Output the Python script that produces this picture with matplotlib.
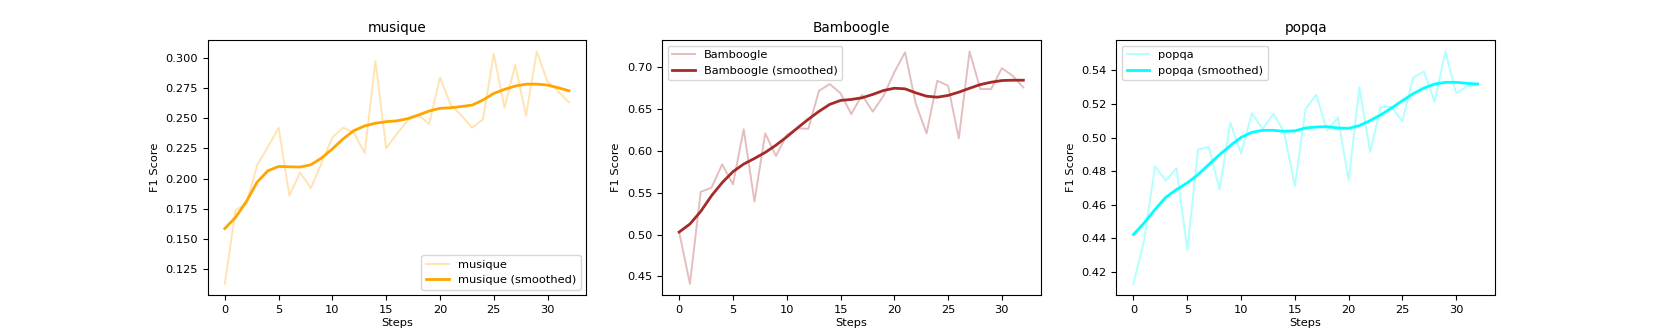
import matplotlib
matplotlib.use("Agg")
import matplotlib.pyplot as plt

steps = list(range(33))

# musique
musique_raw = [0.113, 0.174, 0.179, 0.211, 0.226, 0.242, 0.186, 0.205, 0.192, 0.213,
               0.234, 0.242, 0.238, 0.221, 0.297, 0.225, 0.237, 0.248, 0.2525, 0.245,
               0.2835, 0.261, 0.252, 0.242, 0.249, 0.303, 0.2585, 0.294, 0.252, 0.305,
               0.280, 0.272, 0.263]
musique_smooth = [0.1587, 0.168, 0.181, 0.197, 0.2064, 0.210, 0.2097, 0.2095, 0.2114, 0.217,
                  0.2245, 0.2328, 0.2396, 0.2435, 0.2457, 0.247, 0.2477, 0.2495, 0.2525, 0.2558,
                  0.258, 0.2585, 0.2595, 0.2607, 0.2649, 0.2703, 0.2737, 0.2764, 0.278, 0.278,
                  0.2772, 0.275, 0.2725]

# Bamboogle
bamboogle_raw = [0.503, 0.441, 0.551, 0.556, 0.584, 0.560, 0.626, 0.5395, 0.621, 0.594,
                 0.619, 0.627, 0.6265, 0.672, 0.680, 0.669, 0.644, 0.667, 0.647, 0.666,
                 0.694, 0.718, 0.6565, 0.621, 0.684, 0.678, 0.615, 0.719, 0.674, 0.674,
                 0.699, 0.690, 0.676]
bamboogle_smooth = [0.503, 0.5126, 0.5276, 0.5463, 0.5621, 0.5752, 0.5843, 0.591, 0.5982, 0.6069,
                    0.6168, 0.6275, 0.6378, 0.6473, 0.6557, 0.6604, 0.6616, 0.6636, 0.6676, 0.6723,
                    0.675, 0.6743, 0.6695, 0.6655, 0.6643, 0.6664, 0.6703, 0.675, 0.6794, 0.6822,
                    0.6842, 0.6846, 0.6846]

# popqa
popqa_raw = [0.4128, 0.4392, 0.4829, 0.4743, 0.4817, 0.4329, 0.4928, 0.4944, 0.469, 0.509,
             0.4904, 0.5146, 0.5051, 0.5142, 0.5035, 0.471, 0.517, 0.5255, 0.5041, 0.512,
             0.4745, 0.530, 0.4914, 0.5182, 0.5182, 0.5097, 0.5358, 0.5394, 0.5212, 0.5513,
             0.5265, 0.5305, 0.5319]
popqa_smooth = [0.4422, 0.4492, 0.4571, 0.4644, 0.469, 0.473, 0.4779, 0.4839, 0.4898, 0.4952,
                0.5001, 0.5031, 0.5043, 0.5043, 0.5037, 0.504, 0.5057, 0.5063, 0.5065, 0.5057,
                0.5055, 0.5071, 0.5101, 0.5136, 0.5176, 0.522, 0.5261, 0.5295, 0.5319, 0.5329,
                0.5329, 0.5323, 0.5319]

datasets = [
    ("musique", musique_raw, musique_smooth, "orange", "lower right"),
    ("Bamboogle", bamboogle_raw, bamboogle_smooth, "brown", "upper left"),
    ("popqa", popqa_raw, popqa_smooth, "cyan", "upper left"),
]

plt.rcParams["font.size"] = 8.2
plt.rcParams["axes.titlesize"] = 9.8

fig, axes = plt.subplots(1, 3, figsize=(16.61, 3.32), dpi=100)

for ax, (name, raw, smooth, color, loc) in zip(axes, datasets):
    ax.plot(steps, raw, color=color, alpha=0.3, linewidth=1.4, label=name)
    ax.plot(steps, smooth, color=color, linewidth=2, label=f"{name} (smoothed)")
    ax.set_title(name)
    ax.set_xlabel("Steps", labelpad=2)
    ax.set_ylabel("F1 Score")
    ax.legend(loc=loc)

fig.savefig("out.png", dpi=100)
plt.close(fig)
